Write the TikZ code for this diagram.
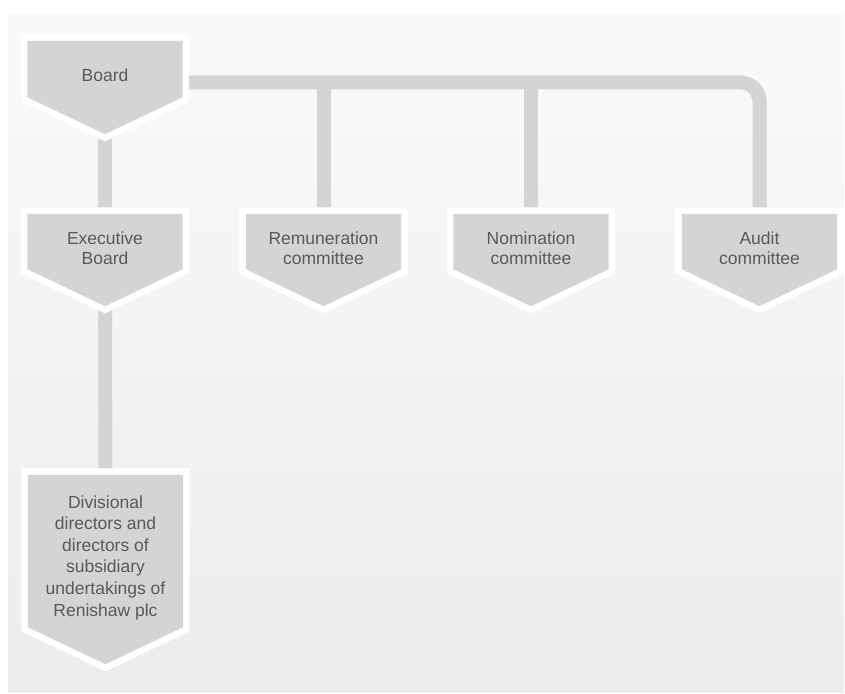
\documentclass[tikz,border=0pt]{standalone}
\usepackage{fontspec}
\setmainfont{Liberation Sans}
\usetikzlibrary{calc}
\pgfdeclarelayer{background}
\pgfdeclarelayer{lines}
\pgfdeclarelayer{shapes}
\pgfsetlayers{background,lines,shapes,main}
\definecolor{boxgray}{RGB}{211,212,214}
\definecolor{textgray}{RGB}{88,89,91}
\definecolor{paneltop}{RGB}{250,250,250}
\definecolor{panelbottom}{RGB}{235,236,236}
\tikzset{
  govbox/.style={minimum width=155pt, inner sep=0pt, align=center,
    text=textgray, font=\fontsize{17.5}{20}\selectfont},
  govshape/.style={fill=boxgray, line join=miter,
    preaction={draw=white, line width=13pt, line join=miter}},
  conn/.style={draw=boxgray, line width=14pt},
}
\begin{document}
\begin{tikzpicture}[x=1pt,y=1pt]
\useasboundingbox (0,0) rectangle (845,693);

% panel
\begin{pgfonlayer}{background}
  \shade[top color=paneltop, bottom color=panelbottom] (8,1) rectangle (844,678);
\end{pgfonlayer}

% boxes (each node covers the body of its arrow shape)
\node[govbox, minimum height=69] (board) at (105,617.5) {Board};
\node[govbox, minimum height=68] (exec)  at (105,445)   {Executive\\Board};
\node[govbox, minimum height=68] (rem)   at (323.5,445) {Remuneration\\committee};
\node[govbox, minimum height=68] (nom)   at (531,445)   {Nomination\\committee};
\node[govbox, minimum height=68] (audit) at (759.5,445) {Audit\\committee};
\node[govbox, minimum height=165, font=\fontsize{17.5}{21.6}\selectfont]
  (div) at (105.5,135.5)
  {Divisional\\directors and\\directors of\\subsidiary\\undertakings of\\Renishaw plc};

% arrow-shaped outlines behind the texts
\begin{pgfonlayer}{shapes}
  \foreach \n in {board,exec,rem,nom,audit,div}
    \path[govshape] (\n.north west) -- (\n.north east)
      -- ([yshift=13pt]\n.south east) -- ([yshift=-24pt]\n.south)
      -- ([yshift=13pt]\n.south west) -- cycle;
\end{pgfonlayer}

% connectors
\coordinate (bus) at ([yshift=-7pt]board.center);
\begin{pgfonlayer}{lines}
  \draw[conn] (board.center) -- (exec.center);
  \draw[conn] (exec.center) -- (div.center);
  \draw[conn, rounded corners=19pt] (bus) -| (audit.center);
  \draw[conn] (rem.center) -- (rem.center |- bus);
  \draw[conn] (nom.center) -- (nom.center |- bus);
\end{pgfonlayer}
\end{tikzpicture}
\end{document}
